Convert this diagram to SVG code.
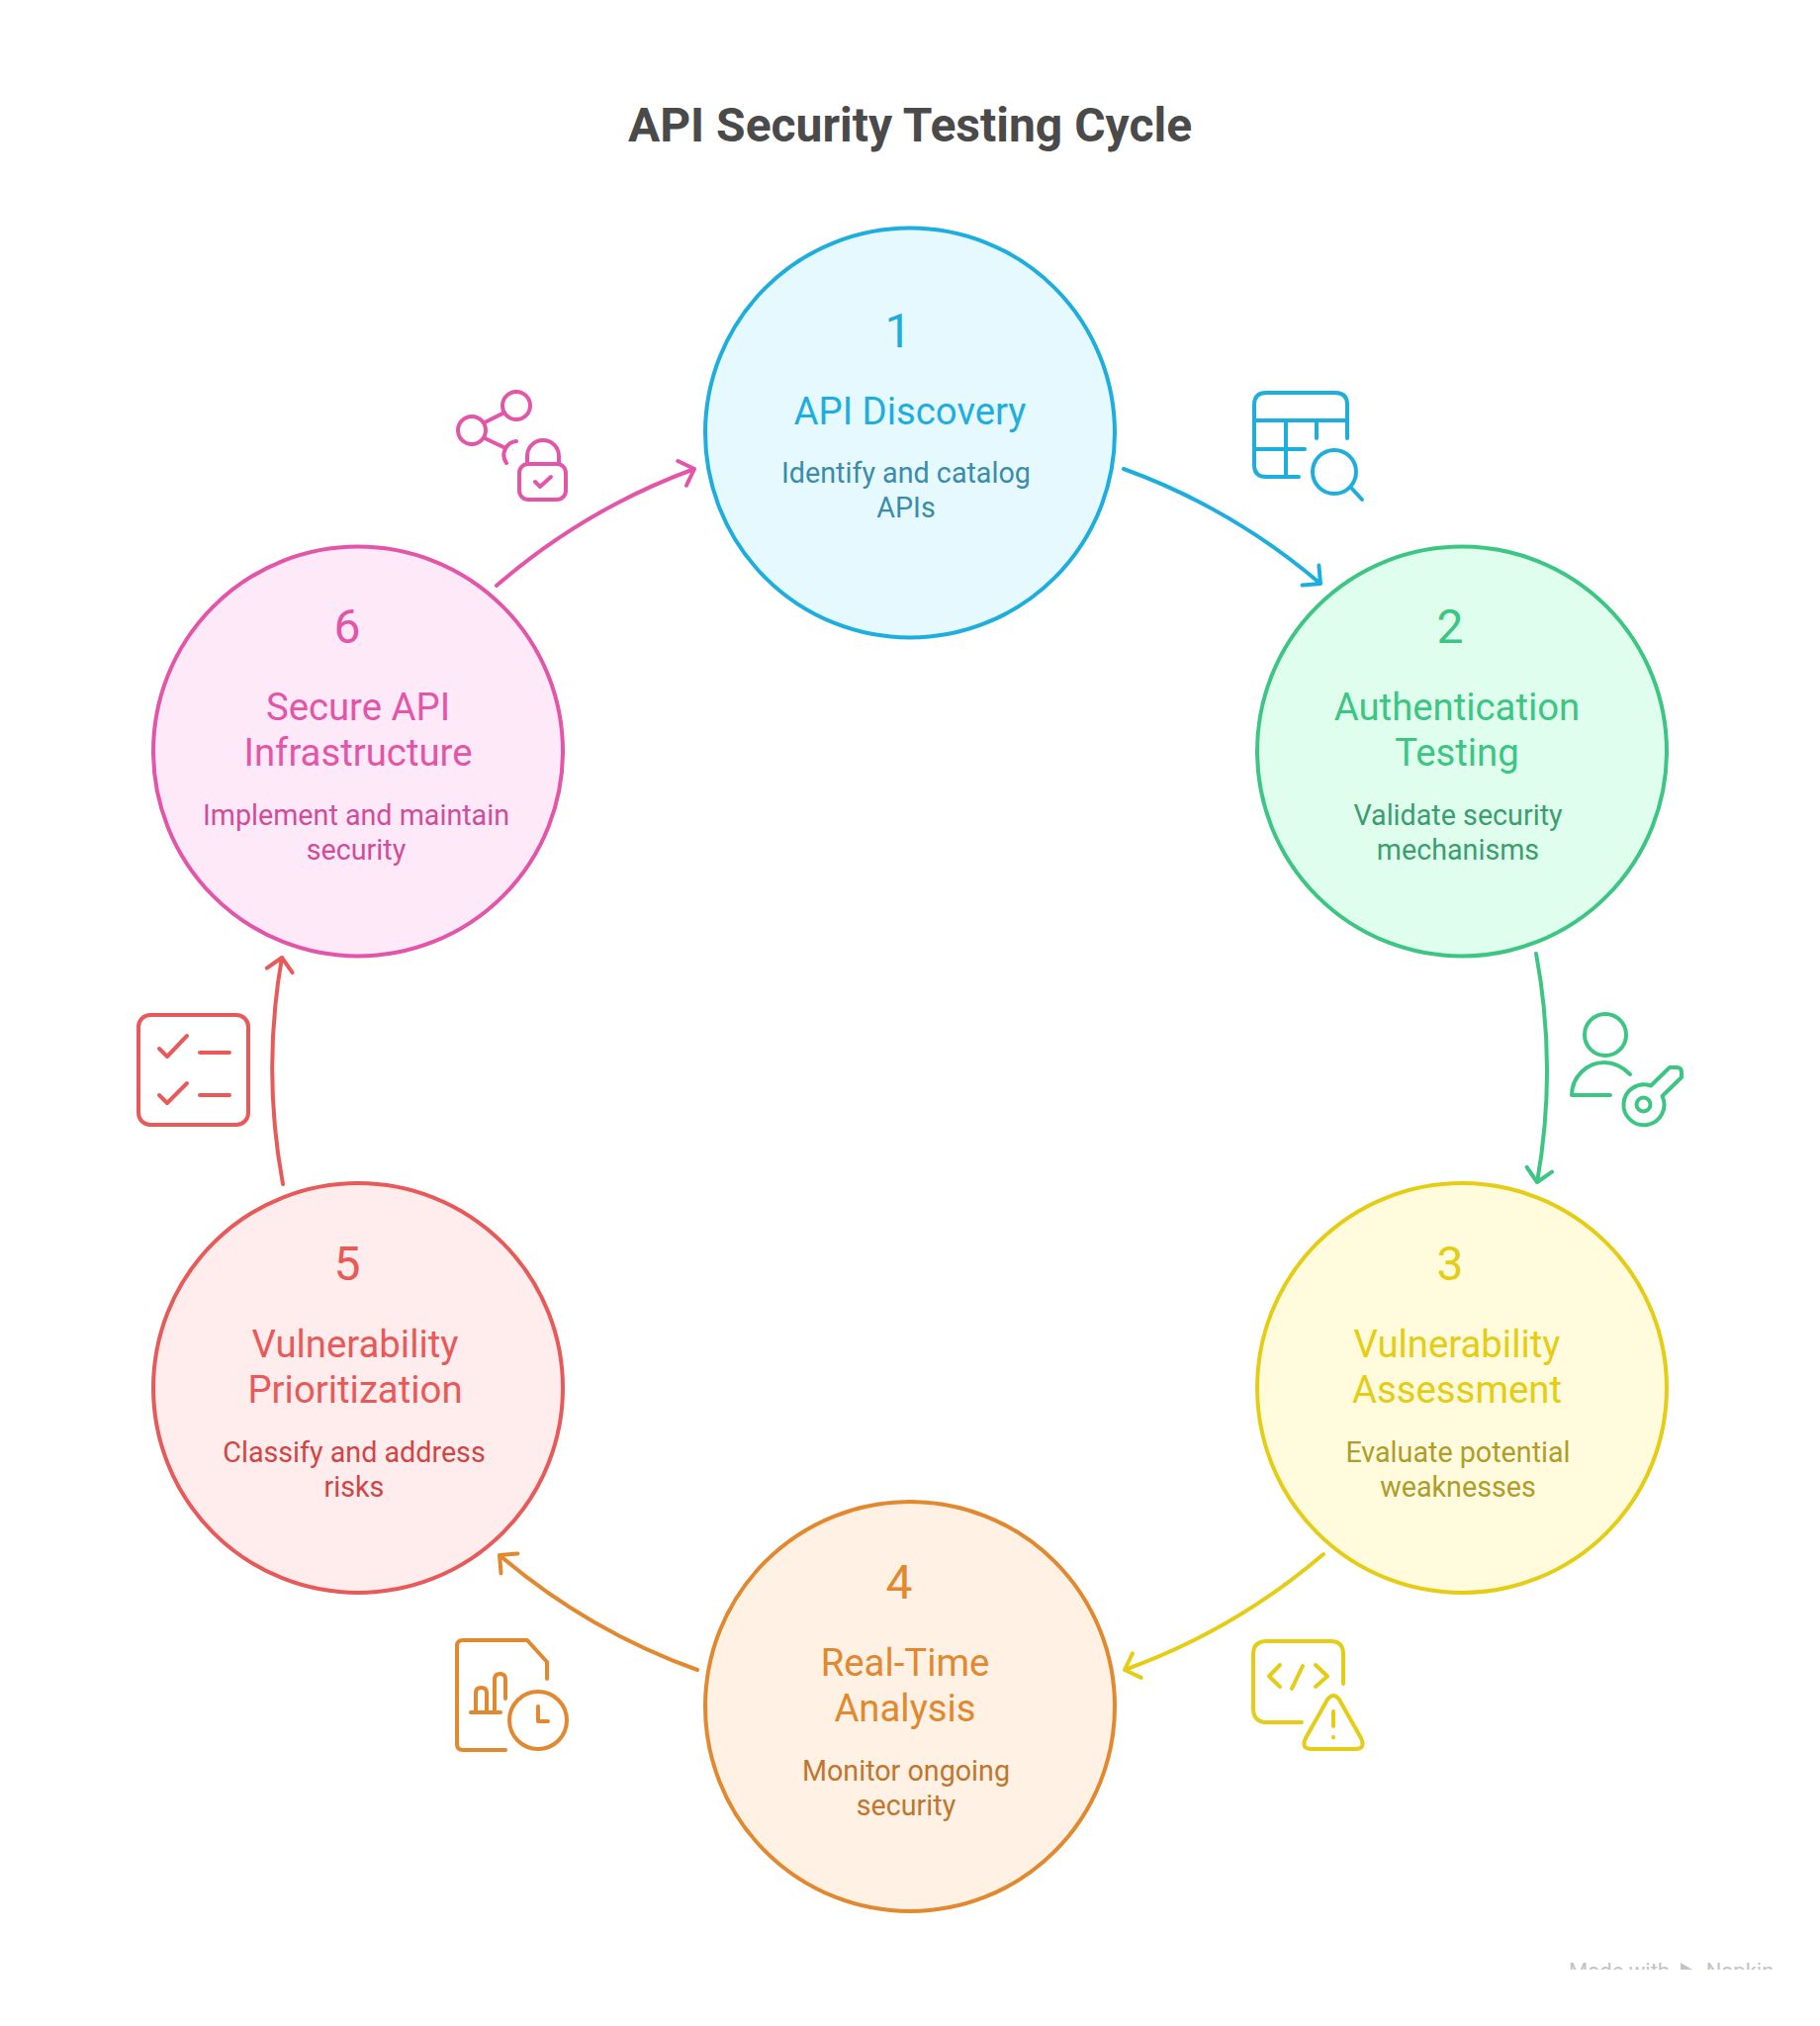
<svg xmlns="http://www.w3.org/2000/svg" width="1840" height="2048" viewBox="0 0 1840 2048">
<style>
text{font-family:Roboto,"Liberation Sans",sans-serif;text-anchor:middle}
.t{font-size:48px;font-weight:700;fill:#4a4a4a}
.n{font-size:48px}
.l{font-size:38.300px}
.d{font-size:28.700px}
.c{stroke-width:4px}
.i,.a{fill:none;stroke-width:4px;stroke-linecap:round;stroke-linejoin:round}
.s1{stroke:#1eaede}.f1{fill:#1eaede}.g1{fill:#3a8cab}
.s2{stroke:#3cc583}.f2{fill:#3cc583}.g2{fill:#3a9e6e}
.s3{stroke:#e4cd14}.f3{fill:#e4cd14}.g3{fill:#b09c2a}
.s4{stroke:#e2882f}.f4{fill:#e2882f}.g4{fill:#c0762f}
.s5{stroke:#e85a5a}.f5{fill:#e85a5a}.g5{fill:#d04545}
.s6{stroke:#e255a8}.f6{fill:#e255a8}.g6{fill:#d04c9c}
</style>
<defs><clipPath id="wm"><rect x="1560" y="1960" width="280" height="31"/></clipPath></defs>
<rect width="1840" height="2048" fill="#fff"/>
<text class="t" x="920" y="143">API Security Testing Cycle</text>
<g id="connectors">
<path class="a s1" d="M1136 474A644 644 0 0 1 1335 590M1333.400 571.600L1335 590L1316.600 591.600"/>
<path class="a s2" d="M1553 964A644 644 0 0 1 1554 1195M1569 1184.600L1554 1195L1543.600 1179.800"/>
<path class="a s3" d="M1338 1571A645 645 0 0 1 1137 1688M1153.700 1695.900L1137 1688L1144.900 1671.300"/>
<path class="a s4" d="M705 1688A645 645 0 0 1 505 1572M506.500 1590.400L505 1572L523.400 1570.500"/>
<path class="a s5" d="M286 1197A645 645 0 0 1 285 968M269.800 978.600L285 968L295.600 983.200"/>
<path class="a s6" d="M502 592A644 644 0 0 1 702 474M685.300 466L702 474L694 490.700"/>
</g>
<g id="node-1">
<circle class="c s1" cx="920" cy="437.500" r="207" fill="#e5f9ff"/>
<text class="n f1" x="908" y="351">1</text>
<text class="l f1" x="920" y="429">API Discovery</text>
<text class="d g1" x="916" y="488">Identify and catalog</text>
<text class="d g1" x="916" y="523">APIs</text>
</g>
<g id="node-2">
<circle class="c s2" cx="1478" cy="759.500" r="207" fill="#e0feee"/>
<text class="n f2" x="1466" y="650">2</text>
<text class="l f2" x="1473" y="728">Authentication</text>
<text class="l f2" x="1473" y="774">Testing</text>
<text class="d g2" x="1474" y="834">Validate security</text>
<text class="d g2" x="1474" y="869">mechanisms</text>
</g>
<g id="node-3">
<circle class="c s3" cx="1478" cy="1403" r="207" fill="#fffbdc"/>
<text class="n f3" x="1466" y="1294">3</text>
<text class="l f3" x="1473" y="1372">Vulnerability</text>
<text class="l f3" x="1473" y="1418">Assessment</text>
<text class="d g3" x="1474" y="1478">Evaluate potential</text>
<text class="d g3" x="1474" y="1513">weaknesses</text>
</g>
<g id="node-4">
<circle class="c s4" cx="920" cy="1725" r="207" fill="#fff1e3"/>
<text class="n f4" x="909" y="1616">4</text>
<text class="l f4" x="915" y="1694">Real-Time</text>
<text class="l f4" x="915" y="1740">Analysis</text>
<text class="d g4" x="916" y="1800">Monitor ongoing</text>
<text class="d g4" x="916" y="1835">security</text>
</g>
<g id="node-5">
<circle class="c s5" cx="362" cy="1403" r="207" fill="#ffeded"/>
<text class="n f5" x="351" y="1294">5</text>
<text class="l f5" x="359" y="1372">Vulnerability</text>
<text class="l f5" x="359" y="1418">Prioritization</text>
<text class="d g5" x="358" y="1478">Classify and address</text>
<text class="d g5" x="358" y="1513">risks</text>
</g>
<g id="node-6">
<circle class="c s6" cx="362" cy="759.500" r="207" fill="#fee9f8"/>
<text class="n f6" x="351" y="650">6</text>
<text class="l f6" x="362" y="728">Secure API</text>
<text class="l f6" x="362" y="774">Infrastructure</text>
<text class="d g6" x="360" y="834">Implement and maintain</text>
<text class="d g6" x="360" y="869">security</text>
</g>
<g id="icon-1" class="i s1">
<path d="M1362 443V409Q1362 397 1350 397H1280Q1268 397 1268 409V470Q1268 482 1280 482H1313M1268 425H1362M1300 425V482M1331 425V443M1268 454H1319"/>
<circle cx="1349" cy="477" r="22"/>
<path d="M1366 493L1377 505"/>
</g>
<g id="icon-2" class="i s2">
<circle cx="1623" cy="1046" r="21"/>
<path d="M1648 1086C1641 1079 1632 1074 1622 1074C1604 1074 1589 1089 1589 1107H1628"/>
<path d="M1669 1097.500L1688 1079H1695Q1700 1079 1700 1084V1089L1680.500 1108A20.500 20.500 0 1 1 1669 1097.500Z"/>
<circle cx="1661.500" cy="1116.500" r="7"/>
</g>
<g id="icon-3" class="i s3">
<path d="M1358 1702V1672Q1358 1659 1345 1659H1281Q1267 1659 1267 1672V1727Q1267 1741 1281 1741H1316"/>
<path d="M1294 1683L1283 1694.500L1294 1705M1317 1684L1306 1707M1330 1683L1342 1694.500L1330 1705"/>
<path d="M1342 1718Q1348 1710 1354 1718L1376 1757Q1381 1768 1370 1768H1326Q1315 1768 1320 1757Z"/>
<path d="M1348 1730V1745M1348 1756V1756.500"/>
</g>
<g id="icon-4" class="i s4">
<path d="M553 1697V1680L533 1658H468Q462 1658 462 1664V1763Q462 1769 468 1769H511"/>
<path d="M476 1731H506M481 1731V1711Q481 1706 486.500 1706Q492 1706 492 1711V1731M500 1731V1698Q500 1692 505.500 1692Q511 1692 511 1698V1717"/>
<circle cx="544" cy="1739" r="29"/>
<path d="M544 1725V1740H554"/>
</g>
<g id="icon-5" class="i s5">
<rect x="140" y="1026" width="111" height="111" rx="12"/>
<path d="M161 1060L169 1068L189 1047M161 1107L169 1115L189 1095M202 1064H232M202 1107H232"/>
</g>
<g id="icon-6" class="i s6">
<circle cx="522" cy="410" r="14"/>
<circle cx="477" cy="435" r="14"/>
<path d="M490 427L510 417M490 443L509 452M522 446A14 14 0 0 0 512 468"/>
<rect x="525" y="469" width="47" height="36" rx="9"/>
<path d="M533 469V461A16 16 0 0 1 565 461V469M541 487L546 492L557 482"/>
</g>
<g clip-path="url(#wm)" fill="#c4c4c4">
<text x="1637" y="2000" font-size="22">Made with</text>
<polygon points="1699,1984 1711,1991 1699,1991"/>
<text x="1759" y="2000" font-size="22">Napkin</text>
</g>
</svg>
